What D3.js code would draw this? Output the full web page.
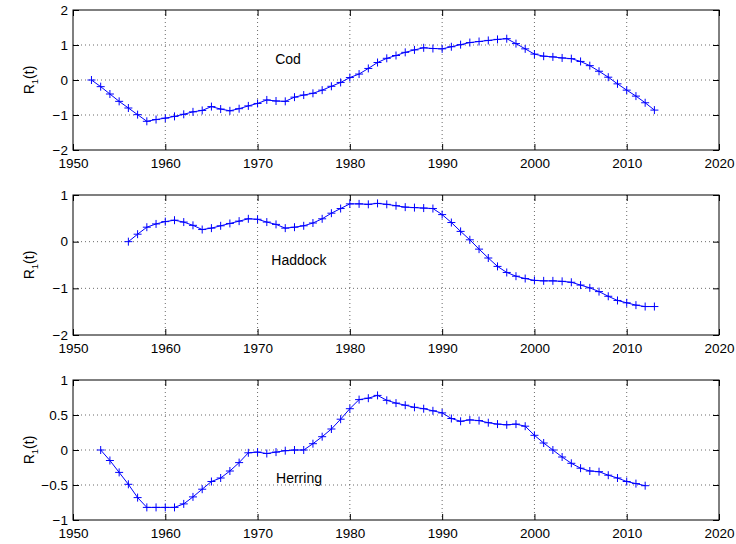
<!DOCTYPE html>
<html><head><meta charset="utf-8">
<script src="https://cdn.jsdelivr.net/npm/d3@7"></script>
<style>body{margin:0;background:#fff}</style>
</head><body>
<svg id="c" width="736" height="544"></svg>
<script>
const codYears = d3.range(1952, 2014);
const codValues = [0,-0.19,-0.4,-0.61,-0.8,-0.99,-1.18,-1.13,-1.09,-1.04,-0.98,-0.91,-0.87,-0.76,-0.83,-0.88,-0.82,-0.74,-0.67,-0.57,-0.6,-0.61,-0.49,-0.43,-0.38,-0.29,-0.18,-0.07,0.07,0.17,0.33,0.5,0.62,0.7,0.79,0.86,0.92,0.9,0.89,0.95,1.01,1.07,1.1,1.13,1.16,1.18,1.04,0.89,0.74,0.68,0.66,0.63,0.61,0.53,0.41,0.25,0.08,-0.11,-0.29,-0.46,-0.65,-0.86];
const haddockYears = d3.range(1956, 2014);
const haddockValues = [0,0.16,0.31,0.38,0.43,0.46,0.42,0.35,0.26,0.29,0.34,0.39,0.44,0.49,0.48,0.42,0.37,0.29,0.31,0.34,0.4,0.49,0.61,0.71,0.81,0.81,0.8,0.82,0.8,0.77,0.74,0.73,0.72,0.71,0.58,0.41,0.22,0.04,-0.16,-0.35,-0.53,-0.66,-0.74,-0.79,-0.83,-0.84,-0.84,-0.85,-0.87,-0.93,-0.99,-1.07,-1.17,-1.26,-1.31,-1.36,-1.39,-1.39];
const herringYears = d3.range(1953, 2013);
const herringValues = [0,-0.15,-0.32,-0.49,-0.68,-0.82,-0.82,-0.82,-0.82,-0.77,-0.67,-0.56,-0.45,-0.4,-0.3,-0.18,-0.04,-0.03,-0.05,-0.03,-0.01,0,0,0.09,0.19,0.3,0.44,0.59,0.72,0.74,0.78,0.71,0.67,0.64,0.61,0.59,0.56,0.53,0.45,0.41,0.43,0.42,0.39,0.37,0.36,0.37,0.34,0.21,0.1,0,-0.1,-0.19,-0.26,-0.3,-0.31,-0.36,-0.4,-0.45,-0.48,-0.51];
const xTicks = [1950,1960,1970,1980,1990,2000,2010,2020];
const codYTicks = [-2,-1,0,1,2];
const haddockYTicks = [-2,-1,0,1];
const herringYTicks = [-1,-0.5,0,0.5,1];
const panelNames = ["Cod","Haddock","Herring"];

const panels = [
  {name: panelNames[0], years: codYears, vals: codValues, dom: [-2,2], ticks: codYTicks, top: 10, lx: 288, ly: 60},
  {name: panelNames[1], years: haddockYears, vals: haddockValues, dom: [-2,1], ticks: haddockYTicks, top: 195, lx: 299, ly: 261},
  {name: panelNames[2], years: herringYears, vals: herringValues, dom: [-1,1], ticks: herringYTicks, top: 380, lx: 299, ly: 479}
];
const L = 73, R = 719, H = 140;
const svg = d3.select("#c");
const font = "Liberation Sans, Arial, Helvetica, sans-serif";

panels.forEach(p => {
  const x = d3.scaleLinear().domain([1950,2020]).range([L,R]);
  const y = d3.scaleLinear().domain(p.dom).range([p.top+H, p.top]);
  const g = svg.append("g");
  g.selectAll(".gx").data(xTicks.slice(1,-1)).enter().append("line")
    .attr("x1", d=>x(d)).attr("x2", d=>x(d)).attr("y1", p.top).attr("y2", p.top+H)
    .attr("stroke","#444").attr("stroke-width",0.8).attr("stroke-dasharray","1,3");
  g.selectAll(".gy").data(p.ticks.slice(1,-1)).enter().append("line")
    .attr("y1", d=>y(d)).attr("y2", d=>y(d)).attr("x1", L).attr("x2", R)
    .attr("stroke","#444").attr("stroke-width",0.8).attr("stroke-dasharray","1,3");
  const ax = d3.axisBottom(x).tickValues(xTicks).tickFormat(d3.format("d")).tickSizeInner(-6).tickSizeOuter(0).tickPadding(8);
  const axG = g.append("g").attr("transform",`translate(0,${p.top+H})`).call(ax);
  const axT = g.append("g").attr("transform",`translate(0,${p.top})`).call(d3.axisTop(x).tickValues(xTicks).tickSizeInner(-6).tickSizeOuter(0).tickFormat(""));
  const fmt = d => d < 0 ? "\u2212" + Math.abs(d) : String(d);
  const ayG = g.append("g").attr("transform",`translate(${L},0)`).call(d3.axisLeft(y).tickValues(p.ticks).tickFormat(fmt).tickSizeInner(-6).tickSizeOuter(0).tickPadding(5));
  const ayR = g.append("g").attr("transform",`translate(${R},0)`).call(d3.axisRight(y).tickValues(p.ticks).tickSizeInner(-6).tickSizeOuter(0).tickFormat(""));
  [axG,axT,ayG,ayR].forEach(a => {
    a.select(".domain").remove();
    a.selectAll("line").attr("stroke","#000");
    a.selectAll("text").attr("font-family",font).attr("font-size",13.5).attr("fill","#000");
  });
  g.append("rect").attr("x",L).attr("y",p.top).attr("width",R-L).attr("height",H)
    .attr("fill","none").attr("stroke","#000").attr("stroke-width",1);
  const data = p.years.map((yr,i)=>({yr, v:p.vals[i]}));
  g.append("path").datum(data).attr("fill","none").attr("stroke","#0000ff").attr("stroke-width",1)
    .attr("d", d3.line().x(d=>x(d.yr)).y(d=>y(d.v)));
  g.selectAll(".m").data(data).enter().append("path")
    .attr("d", d=>`M${x(d.yr)-4},${y(d.v)}h8M${x(d.yr)},${y(d.v)-4}v8`)
    .attr("stroke","#0000ff").attr("stroke-width",1).attr("fill","none");
  g.append("text").attr("x",p.lx).attr("y",p.ly).attr("text-anchor","middle").attr("dominant-baseline","middle")
    .attr("font-family",font).attr("font-size",14).text(p.name);
  const yl = g.append("text").attr("transform",`translate(34,${p.top+H/2}) rotate(-90)`)
    .attr("text-anchor","middle").attr("font-family",font).attr("font-size",14);
  yl.append("tspan").text("R");
  yl.append("tspan").attr("font-size",9.5).attr("dy",4).text("1");
  yl.append("tspan").attr("dy",-4).text("(t)");
});
</script>
</body></html>
